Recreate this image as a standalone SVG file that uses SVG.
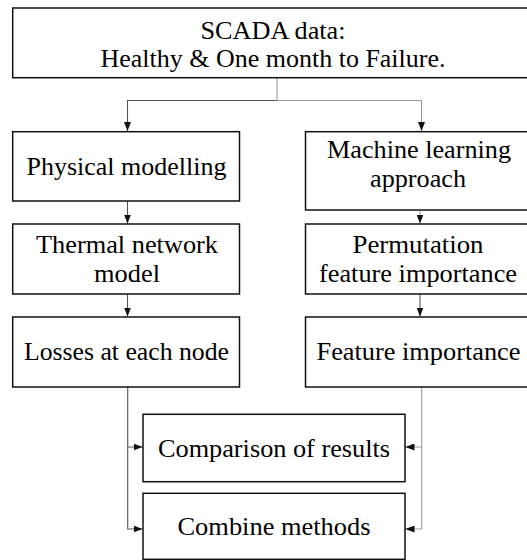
<svg xmlns="http://www.w3.org/2000/svg" width="527" height="560" viewBox="0 0 527 560">
  <style>
    .box { fill: #ffffff; stroke: #111111; stroke-width: 1.5; }
    .lbl { font-family: 'Liberation Serif', 'DejaVu Serif', serif; font-size: 25px; fill: #000000; text-anchor: middle; }
    .wire { fill: none; stroke: #555555; stroke-width: 1.1; }
    .wire-lt { fill: none; stroke: #9a9a9a; stroke-width: 1.1; }
  </style>
  <defs>
    <marker id="arrow" markerUnits="userSpaceOnUse" markerWidth="9" markerHeight="7" refX="9" refY="3.5" orient="auto">
      <path d="M0,0 L9,3.5 L0,7 z" fill="#111111"/>
    </marker>
  </defs>
  <rect x="0" y="0" width="527" height="560" fill="#ffffff"/>

  <!-- connectors -->
  <g id="connectors">
    <path class="wire-lt" d="M277 78 V100.5"/>
    <path class="wire" d="M277 100.5 H127.5 V131" marker-end="url(#arrow)"/>
    <path class="wire-lt" d="M277 100.5 H421.5 V131" marker-end="url(#arrow)"/>
    <path class="wire" d="M127.5 201 V223.5" marker-end="url(#arrow)"/>
    <path class="wire" d="M127.5 294 V316.5" marker-end="url(#arrow)"/>
    <path class="wire-lt" d="M420 210 V223.5" marker-end="url(#arrow)"/>
    <path class="wire" d="M420 294 V316.5" marker-end="url(#arrow)"/>
    <path class="wire" d="M127.7 387 V447 H142.5" marker-end="url(#arrow)"/>
    <path class="wire" d="M127.7 447 V529 H142.5" marker-end="url(#arrow)"/>
    <path class="wire-lt" d="M421.7 387 V447 H405.5" marker-end="url(#arrow)"/>
    <path class="wire-lt" d="M421.7 447 V529 H405.5" marker-end="url(#arrow)"/>
  </g>

  <g id="scada">
    <rect class="box" x="12.7" y="8" width="520" height="69.7"/>
    <text class="lbl" x="273" y="39" textLength="145" lengthAdjust="spacingAndGlyphs">SCADA data:</text>
    <text class="lbl" x="273" y="67" textLength="345" lengthAdjust="spacingAndGlyphs">Healthy &amp; One month to Failure.</text>
  </g>

  <g id="physical">
    <rect class="box" x="12.7" y="131.7" width="226.8" height="69.3"/>
    <text class="lbl" x="126.5" y="175" textLength="200" lengthAdjust="spacingAndGlyphs">Physical modelling</text>
  </g>

  <g id="machine">
    <rect class="box" x="305.5" y="131.7" width="227" height="78.3"/>
    <text class="lbl" x="419" y="158" textLength="184" lengthAdjust="spacingAndGlyphs">Machine learning</text>
    <text class="lbl" x="418" y="187" textLength="96" lengthAdjust="spacingAndGlyphs">approach</text>
  </g>

  <g id="thermal">
    <rect class="box" x="12.7" y="224" width="226.8" height="70"/>
    <text class="lbl" x="127" y="253" textLength="182" lengthAdjust="spacingAndGlyphs">Thermal network</text>
    <text class="lbl" x="127" y="282" textLength="66" lengthAdjust="spacingAndGlyphs">model</text>
  </g>

  <g id="permutation">
    <rect class="box" x="305.5" y="224" width="227" height="70"/>
    <text class="lbl" x="418" y="253" textLength="131" lengthAdjust="spacingAndGlyphs">Permutation</text>
    <text class="lbl" x="418" y="282" textLength="198" lengthAdjust="spacingAndGlyphs">feature importance</text>
  </g>

  <g id="losses">
    <rect class="box" x="12.7" y="317" width="226.8" height="70"/>
    <text class="lbl" x="126.5" y="360" textLength="205" lengthAdjust="spacingAndGlyphs">Losses at each node</text>
  </g>

  <g id="feature">
    <rect class="box" x="305.5" y="317" width="227" height="70"/>
    <text class="lbl" x="418.5" y="360" textLength="204" lengthAdjust="spacingAndGlyphs">Feature importance</text>
  </g>

  <g id="comparison">
    <rect class="box" x="143" y="414.3" width="262" height="67.4"/>
    <text class="lbl" x="274" y="456.5" textLength="232" lengthAdjust="spacingAndGlyphs">Comparison of results</text>
  </g>

  <g id="combine">
    <rect class="box" x="143" y="493.3" width="262" height="66"/>
    <text class="lbl" x="274" y="534.5" textLength="193" lengthAdjust="spacingAndGlyphs">Combine methods</text>
  </g>
</svg>
